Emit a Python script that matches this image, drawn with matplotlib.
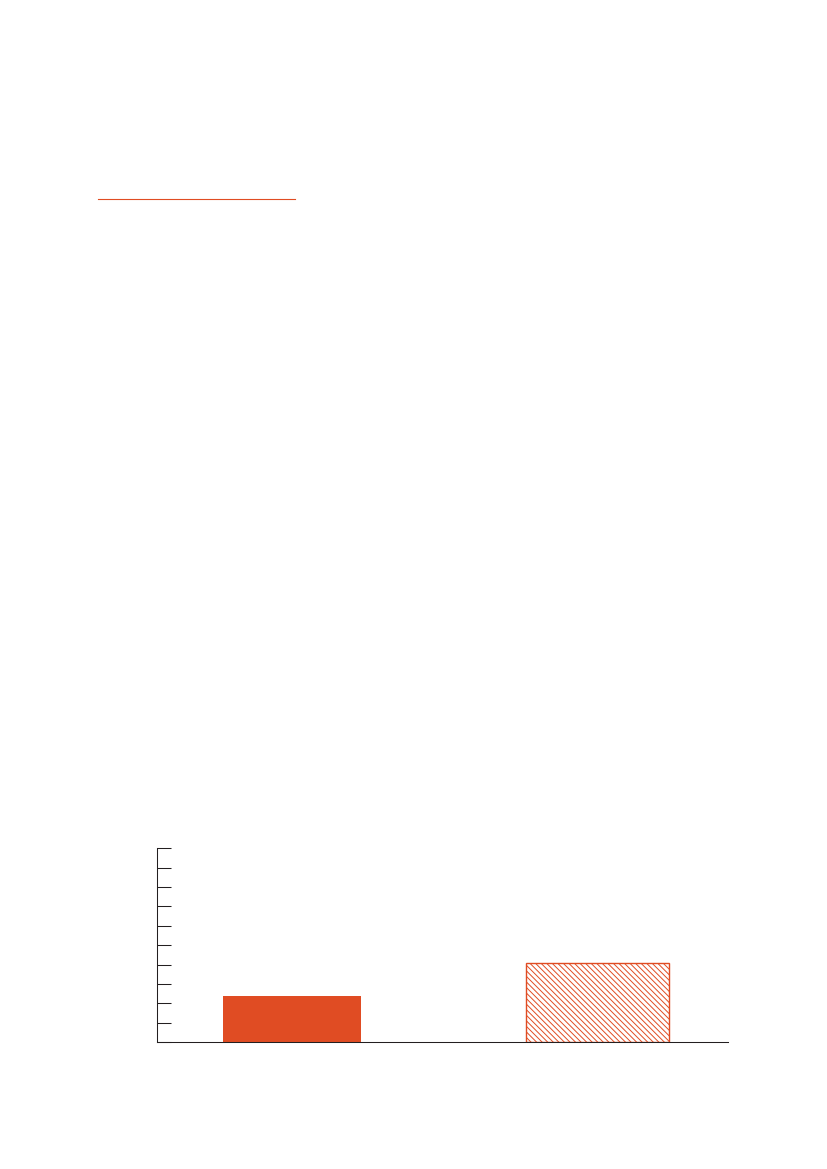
import matplotlib
matplotlib.use("Agg")
import matplotlib.pyplot as plt
from matplotlib.lines import Line2D

# data
categories = ["A", "B"]
values = [2.4, 4.1]
bar_widths = [0.45, 0.466]
hatches = [None, "\\" * 6]
y_ticks = list(range(0, 11))

orange = "#E04C23"
dark = "#231F20"

plt.rcParams["hatch.linewidth"] = 0.7
plt.rcParams["hatch.color"] = orange

fig = plt.figure(figsize=(8.27, 11.69), dpi=100)

# short rule near the top of the page
fig.add_artist(Line2D([98.3 / 827, 295.3 / 827], [1 - 199.3 / 1169, 1 - 199.3 / 1169],
                      color=orange, lw=0.8, transform=fig.transFigure))

ax = fig.add_axes([0.1895, 0.1084, 0.6911, 0.1660])

for i, (v, w, h) in enumerate(zip(values, bar_widths, hatches)):
    if h is None:
        ax.bar(i, v, width=w, color=orange, edgecolor="none")
    else:
        ax.bar(i, v, width=w, facecolor="white", edgecolor=orange, hatch=h, linewidth=1.0)

ax.set_xlim(-0.443, 1.428)
ax.set_ylim(0, 10)
ax.set_yticks(y_ticks)
ax.set_yticklabels([])
ax.set_xticks([])
ax.tick_params(axis="y", direction="in", length=10, width=0.75, color=dark)

for s in ["top", "right"]:
    ax.spines[s].set_visible(False)
for s in ["left", "bottom"]:
    ax.spines[s].set_color(dark)
    ax.spines[s].set_linewidth(0.75)

fig.savefig("out.png", dpi=100)
